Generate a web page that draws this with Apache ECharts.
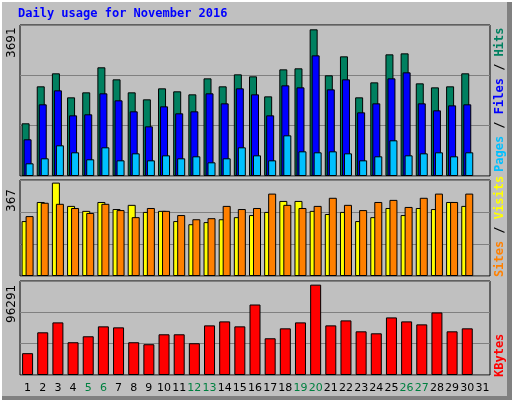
<!DOCTYPE html><html><head><meta charset="utf-8">
<script src="https://cdn.jsdelivr.net/npm/echarts@6/dist/echarts.min.js"></script>
<style>body{margin:0;background:#c0c0c0}#c{width:512px;height:400px}</style></head><body><div id="c"></div>
<script>
const days=[];for(let i=1;i<=31;i++)days.push(String(i));
const weekend=['5','6','12','13','19','20','26','27'];
const hits=[1288,2192,2510,1923,2045,2657,2363,2045,1874,2143,2070,1996,2387,2192,2485,2436,1947,2607,2632,3585,2461,2925,1923,2289,2974,2998,2265,2167,2192,2510,null];
const files=[897,1752,2094,1483,1508,2021,1850,1581,1214,1703,1532,1581,2021,1776,2143,1996,1483,2216,2167,2949,2118,2363,1556,1776,2387,2534,1776,1605,1727,1752,null];
const pages=[310,432,750,579,408,701,383,554,383,505,432,481,334,432,701,505,383,994,603,579,603,554,383,481,872,505,554,579,481,579,null];
const sites=[210,283,357,268,249,283,256,272,245,249,210,198,206,217,225,233,245,287,287,249,237,245,210,225,260,233,260,256,283,268,null];
const visits=[229,280,276,260,241,276,252,225,260,249,233,217,221,268,256,260,315,272,260,268,299,272,252,283,291,264,299,315,283,315,null];
const kbytes=[22374,43731,53901,33561,39663,49833,48816,33561,31527,41697,41697,32544,50850,54918,49833,72207,37629,47799,53901,92547,50850,55935,44748,42714,58986,54918,51867,64071,44748,47799,null];
const maxHits=3691,maxSites=367,maxKb=96291;
const L=20,W=470;
const grids=[{left:L,width:W,top:25,height:151},{left:L,width:W,top:180,height:96},{left:L,width:W,top:281,height:94}];
const maxes=[maxHits,maxSites,maxKb];
const ch=echarts.init(document.getElementById('c'));
const bs=(name,data,color,gi,w,gap)=>({type:'bar',name,data,xAxisIndex:gi,yAxisIndex:gi,barWidth:w,barGap:gap,
  itemStyle:{color,borderColor:'#000',borderWidth:1},animation:false,silent:true});
ch.setOption({backgroundColor:'#c0c0c0',animation:false,
 grid:grids.map(g=>Object.assign({show:true,backgroundColor:'#c0c0c0',borderColor:'#000',borderWidth:1},g)),
 xAxis:grids.map((g,i)=>({type:'category',gridIndex:i,data:days,axisLine:{show:false},axisTick:{show:false},
   axisLabel:{show:i==2,interval:0,margin:8,fontFamily:'DejaVu Sans',fontSize:11,
     color:v=>weekend.includes(v)?'#008040':'#000'}})),
 yAxis:maxes.map((m,i)=>({type:'value',gridIndex:i,min:0,max:m,interval:m/3,axisLabel:{show:false},axisLine:{show:false},axisTick:{show:false},
   splitLine:{lineStyle:{color:'#808080',width:1}}})),
 series:[bs('Hits',hits,'#008060',0,8,'-75%'),bs('Files',files,'#0000ff',0,8,'-75%'),bs('Pages',pages,'#00c0ff',0,8,'-75%'),
   bs('Sites',sites,'#ffff00',1,8,'-50%'),bs('Visits',visits,'#ff8000',1,8,'-50%'),bs('KBytes',kbytes,'#ff0000',2,11,'0%')],
 graphic:[
  {type:'text',left:18,top:8,style:{text:'Daily usage for November 2016',font:'bold 12px "DejaVu Sans Mono"',fill:'#0000ff'}},
  {type:'text',x:6,y:58,rotation:Math.PI/2,style:{text:String(maxHits),font:'12px "DejaVu Sans"',fill:'#000'}},
  {type:'text',x:6,y:212,rotation:Math.PI/2,style:{text:String(maxSites),font:'12px "DejaVu Sans"',fill:'#000'}},
  {type:'text',x:6,y:323,rotation:Math.PI/2,style:{text:String(maxKb),font:'12px "DejaVu Sans"',fill:'#000'}},
  {type:'text',x:494,y:172,rotation:Math.PI/2,style:{rich:{a:{fill:'#00c0ff'},b:{fill:'#000'},c:{fill:'#0000ff'},d:{fill:'#008060'}},
    text:'{a|Pages}{b| / }{c|Files}{b| / }{d|Hits}',font:'bold 12px "DejaVu Sans Mono"'}},
  {type:'text',x:494,y:277,rotation:Math.PI/2,style:{rich:{a:{fill:'#ff8000'},b:{fill:'#000'},c:{fill:'#ffff00'}},
    text:'{a|Sites}{b| / }{c|Visits}',font:'bold 12px "DejaVu Sans Mono"'}},
  {type:'text',x:494,y:377,rotation:Math.PI/2,style:{text:'KBytes',font:'bold 12px "DejaVu Sans Mono"',fill:'#ff0000'}},
  {type:'rect',shape:{x:507,y:0,width:5,height:400},style:{fill:'#808080'}},
  {type:'rect',shape:{x:0,y:396,width:512,height:4},style:{fill:'#808080'}},
  {type:'rect',shape:{x:0,y:0,width:512,height:2},style:{fill:'#ffffff'}},
  {type:'rect',shape:{x:0,y:0,width:2,height:400},style:{fill:'#ffffff'}}
 ]});
</script></body></html>
